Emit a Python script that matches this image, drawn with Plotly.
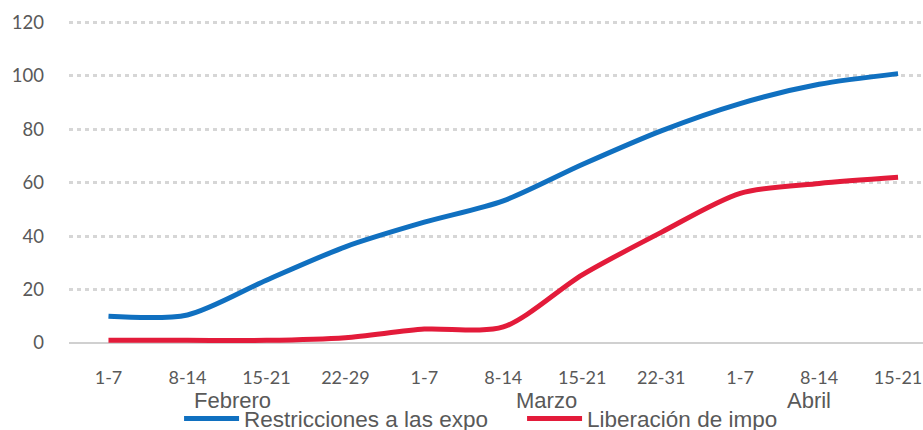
import plotly.graph_objects as go

weeks = ["1-7", "8-14", "15-21", "22-29", "1-7", "8-14", "15-21", "22-31", "1-7", "8-14", "15-21"]
months = ["Febrero", "Marzo", "Abril"]
month_sizes = [4, 4, 3]
restricciones = [10, 10.5, 23.5, 36, 45.2, 53.2, 66.8, 79.4, 89.6, 96.8, 100.8]
liberacion = [1, 1, 1, 2, 5.2, 6, 25.5, 41.4, 56, 59.7, 62]
yticks = [0, 20, 40, 60, 80, 100, 120]

xpos = list(range(len(weeks)))
gray = "#595959"
narrow = "Liberation Sans Narrow, Arial Narrow, sans-serif"

fig = go.Figure()
fig.add_trace(go.Scatter(x=xpos, y=restricciones, mode="lines", name="Restricciones a las expo",
                         line=dict(color="#1070C0", width=5, shape="spline", smoothing=0.8)))
fig.add_trace(go.Scatter(x=xpos, y=liberacion, mode="lines", name="Liberación de impo",
                         line=dict(color="#E31B3A", width=5, shape="spline", smoothing=0.8)))

# month group labels
start = 0
shifts = [6, 4, -10]
for m, n, sh in zip(months, month_sizes, shifts):
    mid = start + (n - 1) / 2
    fig.add_annotation(x=mid, y=0, xref="x", yref="paper", text=m, showarrow=False,
                       yanchor="middle", yshift=-57, xshift=sh,
                       font=dict(family=narrow, size=22, color=gray))
    start += n

fig.update_layout(
    width=923, height=430,
    margin=dict(l=68.5, r=0, t=20.66, b=87, autoexpand=False),
    paper_bgcolor="white", plot_bgcolor="white",
    showlegend=True,
    legend=dict(orientation="h", xref="container", yref="paper", x=0.194, y=-0.236,
                xanchor="left", yanchor="middle",
                font=dict(family=narrow, size=22.5, color=gray),
                entrywidth=273, entrywidthmode="pixels", itemwidth=55,
                bgcolor="rgba(0,0,0,0)", tracegroupgap=0),
    xaxis=dict(range=[-0.5, 10.316], tickmode="array", tickvals=xpos, ticktext=weeks,
               showgrid=False, zeroline=False, showline=False, ticks="",
               ticklabelstandoff=22, ticklabeloverflow="allow",
               tickfont=dict(family="Lato, sans-serif", size=18, color=gray)),
    yaxis=dict(range=[0, 120.5], tickmode="array", tickvals=yticks,
               showgrid=True, gridcolor="#D6D6D6", gridwidth=2.5, griddash="4px,4px",
               zeroline=True, zerolinecolor="#D0D0D0", zerolinewidth=1.5,
               showline=False, ticks="", ticklabelstandoff=24,
               tickfont=dict(family="Lato, sans-serif", size=18.5, color=gray)),
)

fig.write_html("out.html", config={"displayModeBar": False},
               post_script="document.body.style.margin='0';document.body.style.overflow='hidden';")
